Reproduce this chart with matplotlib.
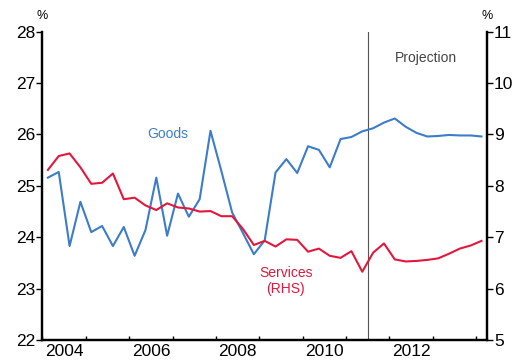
import numpy as np
import matplotlib
matplotlib.use("Agg")
import matplotlib.pyplot as plt

plt.rcParams['font.family'] = ['Liberation Sans', 'DejaVu Sans']

# quarterly observations, Mar-2004 .. Mar-2014 (plotted mid-quarter)
quarters = 2004.125 + 0.25 * np.arange(41)

# goods share, left axis (%)
goods = [25.16, 25.27, 23.83, 24.69, 24.10, 24.22, 23.83, 24.20, 23.64, 24.14,
         25.16, 24.03, 24.85, 24.40, 24.74, 26.07, 25.29, 24.48, 24.08, 23.67,
         23.94, 25.26, 25.52, 25.25, 25.77, 25.70, 25.36, 25.91, 25.95, 26.06,
         26.12, 26.23, 26.31, 26.15, 26.03, 25.96, 25.97, 25.99, 25.98, 25.98, 25.96]

# services share, right axis (%)
services = [8.31, 8.58, 8.63, 8.36, 8.04, 8.06, 8.24, 7.74, 7.77, 7.62,
            7.53, 7.66, 7.58, 7.56, 7.50, 7.51, 7.41, 7.41, 7.16, 6.85,
            6.93, 6.82, 6.96, 6.95, 6.72, 6.78, 6.64, 6.60, 6.73, 6.33,
            6.70, 6.88, 6.57, 6.53, 6.54, 6.56, 6.59, 6.68, 6.78, 6.84, 6.93]

year_ticks = list(range(2004, 2015))
year_labels = ['2004', '2006', '2008', '2010', '2012']
projection_start = 2011.5

blue = '#3d7dc8'
red = '#e2173d'

fig = plt.figure(figsize=(5.18, 3.63), dpi=100)
ax = fig.add_axes([0.082, 0.063, 0.858, 0.850])
ax2 = ax.twinx()

ax.plot(quarters, goods, color=blue, lw=1.5, zorder=3)
ax2.plot(quarters, services, color=red, lw=1.5, zorder=3)
ax.axvline(projection_start, color='#555555', lw=0.8)

ax.set_xlim(2004, 2014.25)
ax.set_ylim(22, 28)
ax2.set_ylim(5, 11)
ax.set_yticks(range(22, 29))
ax2.set_yticks(range(5, 12))

# year boundaries as ticks, labels centred mid-year
ax.set_xticks(year_ticks)
ax.set_xticklabels([])
ax.set_xticks([int(y) + 0.5 for y in year_labels], minor=True)
ax.set_xticklabels(year_labels, minor=True)
ax.tick_params(axis='x', which='major', direction='in', length=3, width=1)
ax.tick_params(axis='x', which='minor', length=0, labelsize=12.5, pad=3)
ax.tick_params(axis='y', direction='out', length=4, width=1, labelsize=12.5, pad=1)
ax2.tick_params(axis='y', direction='out', length=4, width=1, labelsize=12.5, pad=1)

for a in (ax, ax2):
    a.spines['top'].set_visible(False)
    for s in ('left', 'right', 'bottom'):
        a.spines[s].set_linewidth(1.6)

ax.text(0, 1.05, '%', transform=ax.transAxes, ha='center', va='center', fontsize=9)
ax.text(1, 1.05, '%', transform=ax.transAxes, ha='center', va='center', fontsize=9)

ax.text(2006.89, 26.0, 'Goods', color=blue, ha='center', va='center', fontsize=10)
ax2.text(2009.61, 6.15, 'Services\n(RHS)', color=red, ha='center', va='center',
         fontsize=10, linespacing=1.2)
ax.text(2012.84, 27.48, 'Projection', color='#444444', ha='center', va='center', fontsize=10)

fig.savefig('out.png', dpi=100)
